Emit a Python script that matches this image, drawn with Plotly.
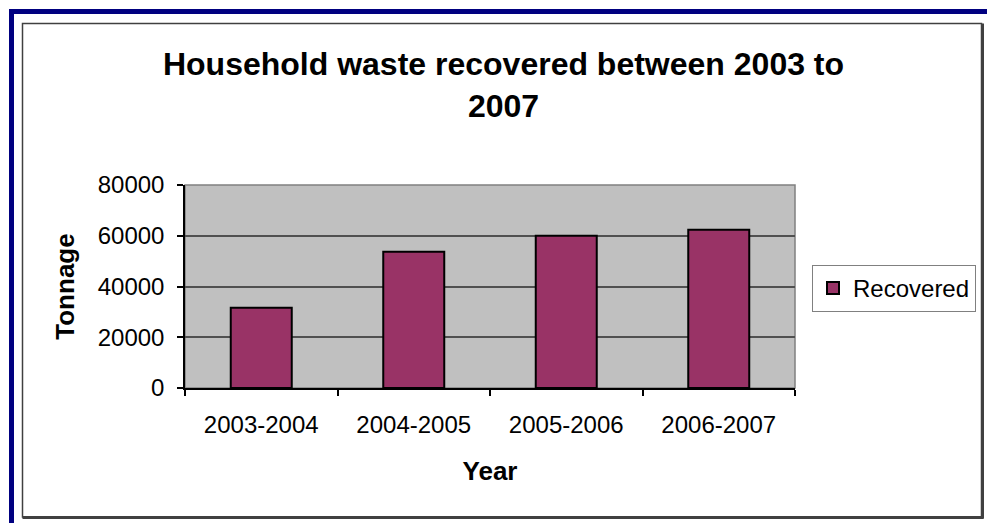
import plotly.graph_objects as go

categories = ["2003-2004", "2004-2005", "2005-2006", "2006-2007"]
recovered = [31600, 53700, 60000, 62400]
y_ticks = [0, 20000, 40000, 60000, 80000]

W, H = 987, 523
ML, MR, MT, MB = 185, W - 795, 185, H - 388
PW, PH = W - ML - MR, H - MT - MB

def px(x):
    return (x - ML) / PW

def py(y):
    return (H - MB - y) / PH

FONT = "Liberation Sans, Arial, sans-serif"

fig = go.Figure()
fig.add_trace(go.Bar(
    x=categories, y=recovered, name="Recovered",
    marker=dict(color="#993366", line=dict(color="#000000", width=2)),
))

shapes = [
    # outer navy frame
    dict(type="rect", xref="paper", yref="paper", x0=px(11.5), y0=py(540), x1=px(1010), y1=py(11.5),
         line=dict(color="#000080", width=5), fillcolor="rgba(0,0,0,0)", layer="above"),
    # inner chart frame
    dict(type="rect", xref="paper", yref="paper", x0=px(22.5), y0=py(517), x1=px(981.5), y1=py(23.5),
         line=dict(color="#404040", width=1.5), fillcolor="rgba(0,0,0,0)", layer="above"),
    dict(type="line", xref="paper", yref="paper", x0=px(982.5), y0=py(23.5), x1=px(982.5), y1=py(518.5),
         line=dict(color="#404040", width=3), layer="above"),
    dict(type="line", xref="paper", yref="paper", x0=px(22.5), y0=py(517.5), x1=px(983.5), y1=py(517.5),
         line=dict(color="#404040", width=3), layer="above"),
    # plot area border top/right grey
    dict(type="rect", xref="paper", yref="paper", x0=0, y0=0, x1=1, y1=1,
         line=dict(color="#808080", width=1.5), fillcolor="rgba(0,0,0,0)", layer="below"),
]

fig.update_layout(
    width=W, height=H,
    margin=dict(l=ML, r=MR, t=MT, b=MB, pad=0, autoexpand=False),
    paper_bgcolor="#FFFFFF",
    plot_bgcolor="#C0C0C0",
    font=dict(family=FONT, size=24, color="#000000"),
    title=dict(
        text="<b>Household waste recovered between 2003 to<br>2007</b>",
        x=503.5 / W, xanchor="center", xref="container",
        y=1 - 75 / H, yanchor="top", yref="container",
        font=dict(family=FONT, size=32, color="#000000"),
    ),
    showlegend=True,
    legend=dict(
        x=px(812), xanchor="left", y=py(265), yanchor="top",
        bordercolor="#808080", borderwidth=1, bgcolor="#FFFFFF",
        font=dict(family=FONT, size=24, color="#000000"),
        itemsizing="constant",
    ),
    bargap=0.6,
    shapes=shapes,
    xaxis=dict(
        type="category",
        showline=True, linecolor="#000000", linewidth=1.5,
        ticks="outside", tickson="boundaries", ticklen=6, tickcolor="#000000", tickwidth=1.5,
        ticklabelstandoff=14,
        showgrid=False, zeroline=False,
        title=dict(text="<b>Year</b>", font=dict(family=FONT, size=26), standoff=25),
    ),
    yaxis=dict(
        range=[0, 80000], tickvals=y_ticks, ticktext=[str(v) for v in y_ticks],
        showline=True, linecolor="#000000", linewidth=1.5,
        ticks="outside", ticklen=6, tickcolor="#000000", tickwidth=1.5,
        ticklabelstandoff=8,
        showgrid=True, gridcolor="#505050", gridwidth=1.5, zeroline=False,
        title=dict(text="<b>Tonnage</b>", font=dict(family=FONT, size=26), standoff=16),
    ),
)

fig.write_html("out.html")
